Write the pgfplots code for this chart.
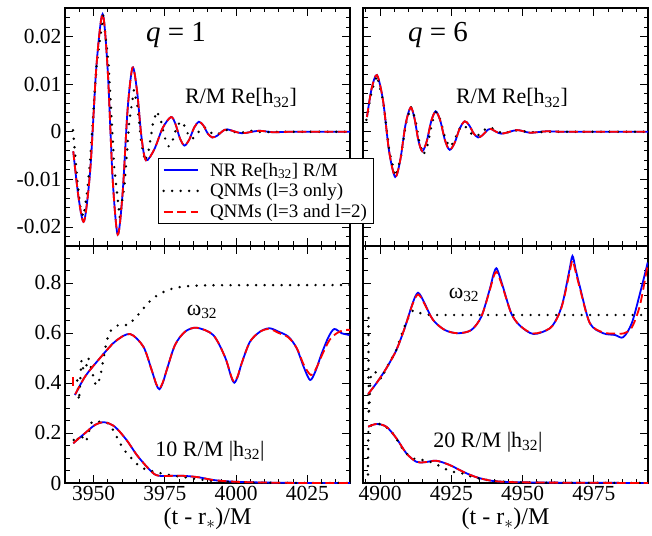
\documentclass[border=0pt]{standalone}
\usepackage{fontspec}
\setmainfont{Liberation Serif}
\usepackage{pgfplots}
\pgfplotsset{compat=1.18}
\begin{document}
\begin{tikzpicture}
\pgfplotsset{
  panel/.style={
    scale only axis, width=285pt, height=238pt, anchor=south west,
    axis line style={line width=1.1pt},
    tick style={black, line width=0.9pt},
    major tick length=8pt, minor tick length=4.5pt,
    tick align=inside,
    scaled x ticks=false, scaled y ticks=false,
    tick label style={font=\fontsize{21.5}{24}\selectfont},
    label style={font=\fontsize{24}{28}\selectfont},
    legend image code/.code={\draw[#1] (0pt,0pt) -- (34pt,0pt);},
  },
  leftx/.style={xmin=3940, xmax=4040, xtick={3950,3975,4000,4025}, minor xtick={3940,3945,...,4040}},
  rightx/.style={xmin=4894, xmax=4994, xtick={4900,4925,4950,4975}, minor xtick={4895,4900,...,4990}},
  topy/.style={ymin=-0.024, ymax=0.026, ytick={-0.02,-0.01,0,0.01,0.02}, minor ytick={-0.024,-0.022,...,0.026}},
  boty/.style={ymin=0, ymax=0.948, ytick={0,0.2,0.4,0.6,0.8}, minor ytick={0,0.05,...,0.95}},
  nr/.style={blue, line width=1.8pt, smooth},
  q3/.style={black, line width=2.7pt, line cap=round, dash pattern=on 0pt off 8.5pt},
  q32/.style={red, line width=1.8pt, dash pattern=on 9pt off 4.5pt, smooth},
}
\pgfplotstableread{
x y
3942.9 -0.0041
3944.8 -0.0140
3946.7 -0.0188
3948.87 -0.0079
3951.03 0.0138
3953.2 0.0247
3954.97 0.0131
3956.73 -0.0100
3958.5 -0.0216
3960.23 -0.0128
3961.97 0.0047
3963.7 0.0135
3965.27 0.0086
3966.83 -0.0011
3968.4 -0.0060
3971.33 -0.0037
3974.27 0.0008
3977.2 0.0031
3978.77 0.0016
3980.33 -0.0014
3981.9 -0.0029
3983.6 -0.00165
3985.3 0.00085
3987.0 0.0021
3988.57 0.0013
3990.13 -0.0004
3991.7 -0.0012
3993.47 -0.0008
3995.23 0.0001
3997.0 0.0005
4002.0 -0.0003
4008.0 0.0002
4013.0 -0.0001
4020.0 0.0
4040.0 0.0
}\reTL
\pgfplotstableread{
x y
3942.8 0.0003
3944.3 -0.0100
3945.5 -0.0165
3946.5 -0.0178
3947.7 -0.0130
3948.8 -0.0062
3951.1 0.0142
3953.4 0.0245
3955.33 0.0139
3957.27 -0.0074
3959.2 -0.0180
3960.87 -0.0113
3962.53 0.0021
3964.2 0.0088
3965.5 0.0051
3966.8 -0.0025
3968.1 -0.0062
3969.47 -0.0036
3970.83 0.0017
3972.2 0.0043
3973.6 0.00245
3975.0 -0.00125
3976.4 -0.0031
3977.77 -0.0018
3979.13 0.0009
3980.5 0.0022
3981.87 0.0013
3983.23 -0.0006
3984.6 -0.0015
3985.97 -0.0009
3987.33 0.0004
3988.7 0.0010
3990.07 0.0006
3991.43 -0.0003
3992.8 -0.0007
3996.9 0.0004
4001.0 -0.0003
4005.1 0.0002
4009.2 -0.0001
4015.0 0.0
4040.0 0.0
}\reTLq
\pgfplotstableread{
x y
4895.4 0.0031
4897.0 0.0090
4898.9 0.0119
4901.03 0.00655
4903.17 -0.00415
4905.3 -0.0095
4907.1 -0.00585
4908.9 0.00145
4910.7 0.0051
4912.07 0.0028
4913.43 -0.0018
4914.8 -0.0041
4916.37 -0.0020
4917.93 0.0022
4919.5 0.0043
4921.13 0.0023
4922.77 -0.0018
4924.4 -0.0038
4926.17 -0.0023
4927.93 0.0007
4929.7 0.0022
4931.27 0.00135
4932.83 -0.00035
4934.4 -0.0012
4935.87 -0.00075
4937.33 0.00015
4938.8 0.0006
4942.5 -0.0004
4948.0 0.00035
4952.6 -0.0002
4958.5 0.0001
4965.0 0.0
4994.0 0.0
}\reTR
\pgfplotstableread{
x y
4895.2 0.0025
4897.0 0.0085
4898.9 0.0118
4901.07 0.0065
4903.23 -0.0041
4905.4 -0.0094
4907.2 -0.0057
4909.0 0.0016
4910.8 0.0053
4912.3 0.0028
4913.8 -0.0023
4915.3 -0.0048
4916.77 -0.0026
4918.23 0.0020
4919.7 0.0042
4921.27 0.0024
4922.83 -0.0014
4924.4 -0.0032
4925.93 -0.0021
4927.47 0.0003
4929.0 0.0014
4930.5 0.0008
4932.0 -0.0004
4933.5 -0.0010
4935.17 -0.0005
4936.83 0.0005
4938.5 0.0010
4943.0 -0.0004
4947.5 0.0003
4953.0 -0.0001
4960.0 0.0
4994.0 0.0
}\reTRq
% bottom-left omega
\pgfplotstableread{
x y
3943.5 0.352
3947.0 0.425
3951.7 0.492
3957.5 0.565
3962.8 0.596
3967.5 0.545
3970.4 0.452
3972.0 0.395
3973.1 0.375
3974.3 0.400
3975.7 0.452
3978.6 0.552
3982.1 0.605
3986.2 0.621
3992.0 0.592
3996.1 0.505
3998.3 0.425
3999.4 0.401
4000.6 0.425
4002.0 0.479
4004.9 0.565
4008.4 0.605
4011.7 0.619
4015.0 0.605
4018.4 0.585
4021.3 0.539
4023.9 0.460
4026.0 0.412
4027.8 0.445
4030.1 0.519
4032.5 0.585
4034.5 0.616
4037.1 0.599
4039.8 0.592
}\omL
\pgfplotstableread{
x y
3943.6 0.355
3947.0 0.425
3951.7 0.492
3957.5 0.565
3962.8 0.596
3967.5 0.545
3970.4 0.452
3972.0 0.397
3973.1 0.378
3974.3 0.402
3975.7 0.452
3978.6 0.552
3982.1 0.605
3986.2 0.621
3992.0 0.592
3996.1 0.505
3998.3 0.428
3999.4 0.404
4000.6 0.428
4002.0 0.479
4004.9 0.565
4008.4 0.605
4011.7 0.616
4015.0 0.600
4018.4 0.582
4021.3 0.540
4023.9 0.470
4026.3 0.432
4028.2 0.460
4030.5 0.520
4033.0 0.575
4035.5 0.600
4038.0 0.612
4040.0 0.612
}\omLr
\pgfplotstableread{
x y
3944.3 0.41
3944.9 0.33
3945.3 0.40
3945.8 0.49
3946.5 0.45
3947.3 0.46
3948.2 0.50
3949.4 0.45
3950.5 0.40
3951.1 0.39
3952.3 0.42
3953.4 0.49
3954.6 0.57
3956.1 0.61
3958.7 0.632
3962.2 0.632
3964.6 0.659
3966.9 0.689
3969.0 0.719
3971.6 0.745
3974.7 0.765
3978.0 0.779
3981.5 0.786
3985.0 0.789
3990.0 0.791
4040.0 0.792
}\omLq
% bottom-left amplitude
\pgfplotstableread{
x y
3942.9 0.159
3945.0 0.180
3947.0 0.199
3950.5 0.232
3953.8 0.243
3957.5 0.225
3961.6 0.172
3965.2 0.112
3968.7 0.065
3971.3 0.036
3973.0 0.029
3975.1 0.028
3981.0 0.029
3986.8 0.023
3992.0 0.012
3998.0 0.006
4005.0 0.003
4015.0 0.001
4025.0 0.0
4040.0 0.0
}\amL
\pgfplotstableread{
x y
3943.1 0.172
3944.0 0.159
3944.9 0.192
3946.2 0.182
3947.4 0.165
3949.4 0.245
3952.3 0.245
3955.2 0.239
3957.3 0.205
3958.7 0.172
3960.5 0.135
3962.8 0.105
3965.2 0.076
3968.1 0.055
3971.3 0.045
3974.8 0.036
3978.6 0.028
3982.1 0.023
3986.2 0.015
3992.0 0.008
4000.0 0.003
4010.0 0.001
4020.0 0.0
4040.0 0.0
}\amLq
% bottom-right omega
\pgfplotstableread{
x y
4895.8 0.356
4898.7 0.399
4902.2 0.459
4905.7 0.532
4908.6 0.619
4911.0 0.705
4912.3 0.745
4913.3 0.761
4914.3 0.748
4915.6 0.719
4918.6 0.652
4922.7 0.612
4927.3 0.599
4932.0 0.612
4935.5 0.665
4938.4 0.772
4939.8 0.835
4940.8 0.859
4941.8 0.832
4943.1 0.785
4946.0 0.679
4949.0 0.630
4953.8 0.596
4959.6 0.619
4962.5 0.670
4964.3 0.732
4966.4 0.850
4967.5 0.908
4968.6 0.855
4970.1 0.785
4973.6 0.639
4978.3 0.599
4982.4 0.592
4985.3 0.583
4988.3 0.639
4991.2 0.759
4993.9 0.882
}\omR
\pgfplotstableread{
x y
4895.8 0.356
4898.7 0.399
4902.2 0.459
4905.7 0.532
4908.6 0.619
4911.0 0.703
4912.3 0.740
4913.3 0.754
4914.3 0.743
4915.6 0.716
4918.6 0.652
4922.7 0.612
4927.3 0.599
4932.0 0.612
4935.5 0.665
4938.4 0.768
4939.8 0.825
4940.8 0.845
4941.8 0.822
4943.1 0.780
4946.0 0.679
4949.0 0.630
4953.8 0.598
4959.6 0.619
4962.5 0.668
4964.3 0.728
4966.4 0.838
4967.5 0.890
4968.6 0.845
4970.1 0.778
4973.6 0.639
4978.3 0.602
4982.4 0.598
4985.3 0.598
4988.3 0.622
4991.2 0.712
4993.9 0.875
}\omRr
\pgfplotstableread{
x y
4895.9 0.660
4896.0 0.270
4896.3 0.330
4896.6 0.420
4897.5 0.445
4899.3 0.440
4900.4 0.415
4902.2 0.460
4905.7 0.532
4908.0 0.610
4909.8 0.659
4911.5 0.690
4913.0 0.685
4915.0 0.675
4918.0 0.672
4994.0 0.672
}\omRq
% bottom-right amplitude
\pgfplotstableread{
x y
4895.8 0.225
4898.7 0.236
4902.2 0.225
4905.7 0.179
4909.2 0.119
4912.7 0.085
4915.6 0.083
4919.7 0.089
4924.4 0.072
4929.1 0.045
4933.8 0.023
4939.0 0.009
4945.0 0.004
4955.0 0.002
4970.0 0.001
4994.0 0.0
}\amR
\pgfplotstableread{
x y
4895.7 0.000
4895.8 0.110
4895.9 0.225
4898.0 0.236
4901.0 0.236
4905.1 0.192
4906.9 0.152
4909.5 0.115
4912.7 0.092
4915.6 0.092
4919.0 0.080
4922.1 0.059
4925.6 0.045
4929.0 0.038
4932.6 0.023
4939.0 0.009
4945.0 0.004
4955.0 0.001
4994.0 0.0
}\amRq

% top-right
\begin{axis}[panel, rightx, topy, at={(363pt,289pt)}, xticklabels={}, yticklabels={}]
\addplot[nr] table {\reTR};
\addplot[q3] table {\reTRq};
\addplot[q32] table {\reTR};
\end{axis}

% top-left (with legend on top)
\begin{axis}[panel, leftx, topy, at={(65pt,289pt)}, xticklabels={},
  yticklabels={-0.02,-0.01,0,0.01,0.02},
  legend style={at={(0.326,0.3697)}, anchor=north west, draw=black, line width=0.8pt, fill=white,
    font=\fontsize{19}{21}\selectfont, inner xsep=4pt, inner ysep=2.5pt, row sep=2pt, cells={anchor=west},
    /tikz/every odd column/.append style={column sep=9pt}}]
\addplot[nr] table {\reTL};
\addlegendentry{NR Re[h\textsubscript{32}] R/M}
\addplot[q3] table {\reTLq};
\addlegendentry{QNMs (l=3 only)}
\addplot[q32] table {\reTL};
\addlegendentry{QNMs (l=3 and l=2)}
\end{axis}

% bottom-left
\begin{axis}[panel, leftx, boty, height=237pt, at={(65pt,52pt)},
  xticklabels={3950,3975,4000,4025},
  yticklabels={0,0.2,0.4,0.6,0.8}, xlabel={(t - r$_*$)/M}]
\addplot[nr] table {\omL};
\addplot[q3] table {\omLq};
\addplot[q32] table {\omLr};
\addplot[red, line width=1.8pt] coordinates {(3942.8,0.388) (3942.8,0.425)};
\addplot[nr] table {\amL};
\addplot[q3] table {\amLq};
\addplot[q32] table {\amL};
\end{axis}

% bottom-right
\begin{axis}[panel, rightx, boty, height=237pt, at={(363pt,52pt)},
  xticklabels={4900,4925,4950,4975},
  yticklabels={}, xlabel={(t - r$_*$)/M}]
\addplot[nr] table {\omR};
\addplot[q3] table {\omRq};
\addplot[q32] table {\omRr};
\addplot[nr] table {\amR};
\addplot[q3] table {\amRq};
\addplot[q32] table {\amR};
\end{axis}

\node[font=\fontsize{29}{32}\selectfont] at (176pt,500pt) {{\itshape q} = 1};
\node[font=\fontsize{29}{32}\selectfont] at (438pt,500pt) {{\itshape q} = 6};
\node[font=\fontsize{22}{26}\selectfont] at (241pt,437pt) {R/M Re[h\textsubscript{32}]};
\node[font=\fontsize{22}{26}\selectfont] at (512pt,437pt) {R/M Re[h\textsubscript{32}]};
\node[font=\fontsize{22}{26}\selectfont] at (202pt,223pt) {ω\textsubscript{32}};
\node[font=\fontsize{22}{26}\selectfont] at (464pt,240pt) {ω\textsubscript{32}};
\node[font=\fontsize{22}{26}\selectfont] at (210pt,84pt) {10 R/M |h\textsubscript{32}|};
\node[font=\fontsize{22}{26}\selectfont] at (488pt,93pt) {20 R/M |h\textsubscript{32}|};

\pgfresetboundingbox
\path[use as bounding box] (0pt,0pt) rectangle (652pt,535pt);
\end{tikzpicture}
\end{document}
